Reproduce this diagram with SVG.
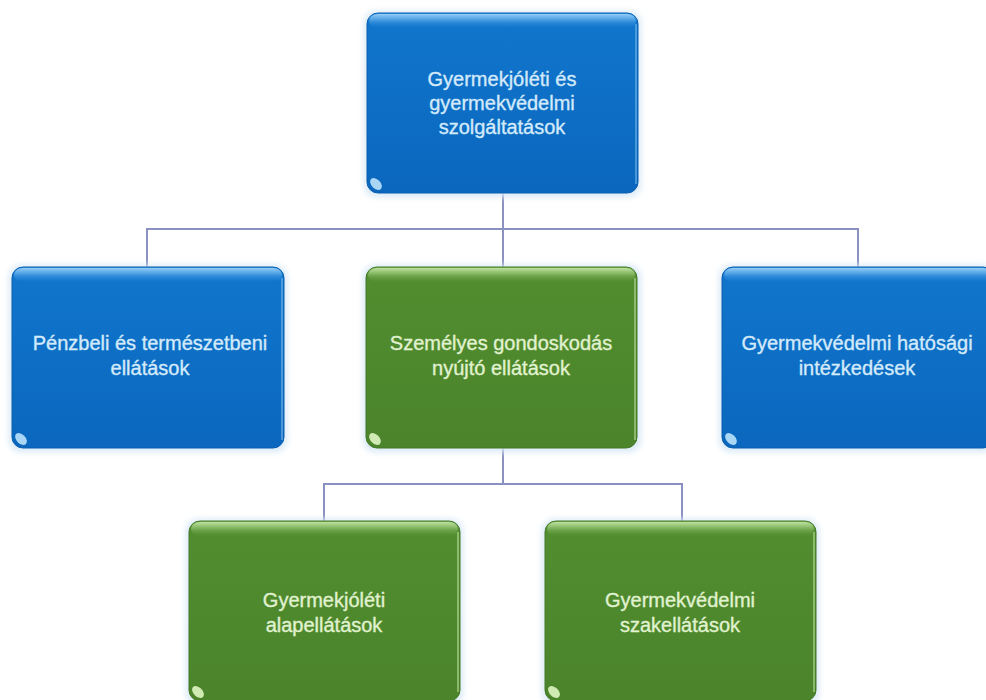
<svg xmlns="http://www.w3.org/2000/svg" width="986" height="700" viewBox="0 0 986 700">
  <defs>
    <linearGradient id="gBlue" x1="0" y1="0" x2="0" y2="1">
      <stop offset="0" stop-color="#3d9be6"/>
      <stop offset="0.05" stop-color="#1175cc"/>
      <stop offset="1" stop-color="#0a67bd"/>
    </linearGradient>
    <linearGradient id="gGreen" x1="0" y1="0" x2="0" y2="1">
      <stop offset="0" stop-color="#7fb65a"/>
      <stop offset="0.05" stop-color="#528d30"/>
      <stop offset="1" stop-color="#4b842b"/>
    </linearGradient>
    <linearGradient id="hiBlue" x1="0" y1="0" x2="0" y2="1">
      <stop offset="0" stop-color="#9fd2f7" stop-opacity="0.9"/>
      <stop offset="1" stop-color="#3d9be6" stop-opacity="0"/>
    </linearGradient>
    <linearGradient id="hiGreen" x1="0" y1="0" x2="0" y2="1">
      <stop offset="0" stop-color="#c4e6a6" stop-opacity="0.9"/>
      <stop offset="1" stop-color="#7fb65a" stop-opacity="0"/>
    </linearGradient>
    <filter id="glow" x="-10%" y="-10%" width="120%" height="120%">
      <feGaussianBlur stdDeviation="3"/>
    </filter>
  </defs>
  <style>
    .conn { fill: none; stroke: #8a90c0; stroke-width: 2; }
    .shadow { fill: #d9e9f7; filter: url(#glow); }
    .blue { fill: url(#gBlue); stroke: #0a5fae; stroke-width: 1; }
    .green { fill: url(#gGreen); stroke: #457b28; stroke-width: 1; }
    .hiB { fill: url(#hiBlue); }
    .hiG { fill: url(#hiGreen); }
    .edgeB { fill: none; stroke: #6fb8ee; stroke-width: 1.5; opacity: 0.8; }
    .edgeG { fill: none; stroke: #b6dd94; stroke-width: 1.5; opacity: 0.8; }
    .curlB { fill: #a9d6f5; }
    .curlG { fill: #cfeab3; }
    text { font-family: "Liberation Sans", Arial, sans-serif; font-size: 20px; text-anchor: middle; stroke-width: 0.35; }
    .tB { fill: #d3eafb; stroke: #d3eafb; }
    .tG { fill: #e0f2cf; stroke: #e0f2cf; }
  </style>

  <g id="connectors">
    <path class="conn" d="M503 193 V229 M147 267 V229 H858 V267 M503 229 V267"/>
    <path class="conn" d="M503 448 V484 M324 521 V484 H682 V521"/>
  </g>

  <g id="node-top">
    <rect class="shadow" x="364" y="11" width="277" height="186" rx="12"/>
    <rect class="blue" x="367" y="13" width="271" height="180" rx="11"/>
    <rect class="hiB" x="369" y="14" width="267" height="14" rx="9"/>
    <path class="edgeB" d="M636 24 V184"/>
    <ellipse class="curlB" cx="376" cy="184" rx="7" ry="4.5" transform="rotate(45 376 184)"/>
    <text class="tB" x="502" y="86">Gyermekjóléti és</text>
    <text class="tB" x="502" y="110">gyermekvédelmi</text>
    <text class="tB" x="502" y="134">szolgáltatások</text>
  </g>

  <g id="node-left">
    <rect class="shadow" x="9" y="265" width="278" height="187" rx="12"/>
    <rect class="blue" x="12" y="267" width="272" height="181" rx="11"/>
    <rect class="hiB" x="14" y="268" width="268" height="14" rx="9"/>
    <path class="edgeB" d="M282 278 V440"/>
    <ellipse class="curlB" cx="21" cy="439" rx="7" ry="4.5" transform="rotate(45 21 439)"/>
    <text class="tB" x="150" y="350">Pénzbeli és természetbeni</text>
    <text class="tB" x="150" y="375">ellátások</text>
  </g>

  <g id="node-middle">
    <rect class="shadow" x="363" y="265" width="278" height="187" rx="12"/>
    <rect class="green" x="366" y="267" width="271" height="181" rx="11"/>
    <rect class="hiG" x="368" y="268" width="267" height="14" rx="9"/>
    <path class="edgeG" d="M635 278 V440"/>
    <ellipse class="curlG" cx="375" cy="439" rx="7" ry="4.5" transform="rotate(45 375 439)"/>
    <text class="tG" x="501" y="350">Személyes gondoskodás</text>
    <text class="tG" x="501" y="375">nyújtó ellátások</text>
  </g>

  <g id="node-right">
    <rect class="shadow" x="719" y="265" width="278" height="187" rx="12"/>
    <rect class="blue" x="722" y="267" width="272" height="181" rx="11"/>
    <rect class="hiB" x="724" y="268" width="268" height="14" rx="9"/>
    <ellipse class="curlB" cx="731" cy="439" rx="7" ry="4.5" transform="rotate(45 731 439)"/>
    <text class="tB" x="857" y="350">Gyermekvédelmi hatósági</text>
    <text class="tB" x="857" y="375">intézkedések</text>
  </g>

  <g id="node-bottom-left">
    <rect class="shadow" x="186" y="519" width="277" height="186" rx="12"/>
    <rect class="green" x="189" y="521" width="271" height="180" rx="11"/>
    <rect class="hiG" x="191" y="522" width="267" height="14" rx="9"/>
    <path class="edgeG" d="M458 532 V692"/>
    <ellipse class="curlG" cx="198" cy="692" rx="7" ry="4.5" transform="rotate(45 198 692)"/>
    <text class="tG" x="324" y="607">Gyermekjóléti</text>
    <text class="tG" x="324" y="632">alapellátások</text>
  </g>

  <g id="node-bottom-right">
    <rect class="shadow" x="542" y="519" width="277" height="186" rx="12"/>
    <rect class="green" x="545" y="521" width="271" height="180" rx="11"/>
    <rect class="hiG" x="547" y="522" width="267" height="14" rx="9"/>
    <path class="edgeG" d="M814 532 V692"/>
    <ellipse class="curlG" cx="554" cy="692" rx="7" ry="4.5" transform="rotate(45 554 692)"/>
    <text class="tG" x="680" y="607">Gyermekvédelmi</text>
    <text class="tG" x="680" y="632">szakellátások</text>
  </g>
</svg>
